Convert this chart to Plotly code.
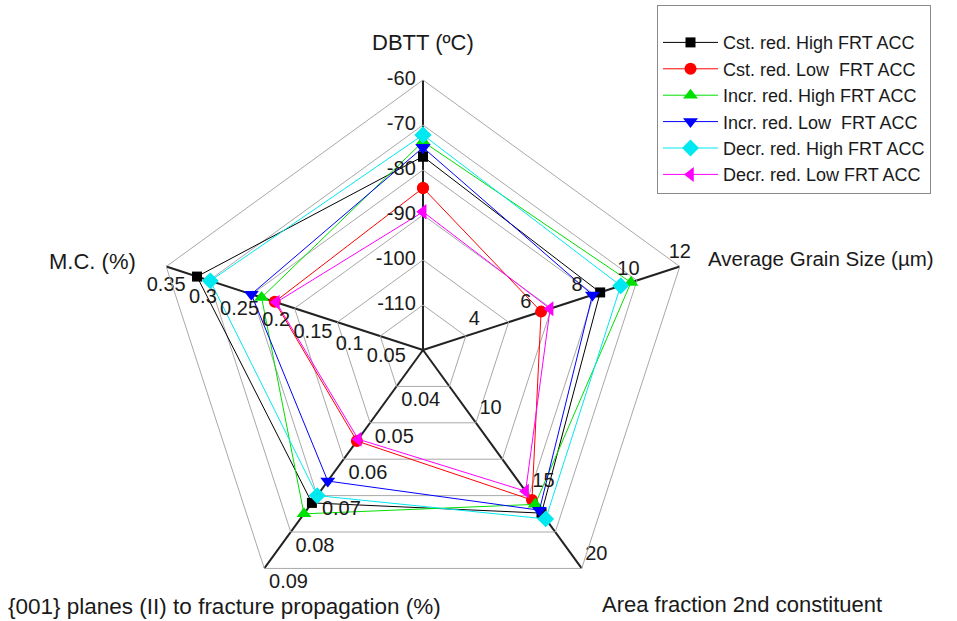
import plotly.graph_objects as go

# Spoke names, clockwise from the top
axis_names = [
    "DBTT (ºC)",
    "Average Grain Size (µm)",
    "Area fraction 2nd constituent",
    "{001} planes (II) to fracture propagation (%)",
    "M.C. (%)",
]

# Each spoke has its own scale: (value at centre, value at outer vertex)
dbtt_range = (-120, -60)
grain_range = (2, 12)
area_range = (5, 20)
planes_range = (0.03, 0.09)
mc_range = (0.0, 0.35)
axis_ranges = [dbtt_range, grain_range, area_range, planes_range, mc_range]

# Labelled ticks along each spoke
dbtt_ticks = [-110, -100, -90, -80, -70, -60]
grain_ticks = [4, 6, 8, 10, 12]
area_ticks = [10, 15, 20]
planes_ticks = [0.04, 0.05, 0.06, 0.07, 0.08, 0.09]
mc_ticks = [0.05, 0.1, 0.15, 0.2, 0.25, 0.3, 0.35]

series_names = [
    "Cst. red. High FRT ACC",
    "Cst. red. Low  FRT ACC",
    "Incr. red. High FRT ACC",
    "Incr. red. Low  FRT ACC",
    "Decr. red. High FRT ACC",
    "Decr. red. Low FRT ACC",
]
# Values per series: DBTT, grain size, area fraction, {001} planes, M.C.
cst_high = [-77.0, 8.9, 16.2, 0.072, 0.308]
cst_low = [-84.0, 6.6, 15.3, 0.055, 0.202]
incr_high = [-73.7, 10.1, 15.6, 0.075, 0.220]
incr_low = [-75.0, 8.6, 16.0, 0.066, 0.234]
decr_high = [-72.2, 9.7, 16.6, 0.070, 0.290]
decr_low = [-89.3, 6.95, 14.7, 0.0545, 0.200]
series_values = [cst_high, cst_low, incr_high, incr_low, decr_high, decr_low]

colors = ["#000000", "#ff0000", "#00e000", "#0000ff", "#00e8f0", "#ff00ff"]
symbols = ["square", "circle", "triangle-up", "triangle-down", "diamond", "triangle-left"]
sizes = [10, 12, 13, 13, 13, 13]

FONT = "Liberation Sans, Arial, sans-serif"
TEXT_COLOR = "#1a1a1a"


def norm(v, rng):
    lo, hi = rng
    return (v - lo) / (hi - lo)


fig = go.Figure()

for name, vals, col, sym, sz in zip(series_names, series_values, colors, symbols, sizes):
    r = [norm(v, rng) for v, rng in zip(vals, axis_ranges)]
    fig.add_trace(go.Scatterpolar(
        r=r + r[:1],
        theta=axis_names + axis_names[:1],
        mode="lines+markers",
        name=name,
        line=dict(color=col, width=1),
        marker=dict(symbol=sym, size=sz, color=col, line=dict(width=0)),
    ))

# Tick labels along each spoke, placed through the polar scale.
# An invisible marker of the given size pads the label away from its tick.
tick_sets = [
    (dbtt_ticks, dbtt_range, "middle left", 10),
    (grain_ticks, grain_range, "top center", 4),
    (area_ticks, area_range, "top right", 4),
    (planes_ticks, planes_range, "bottom right", 6),
    (mc_ticks, mc_range, "bottom center", 13),
]
for axis_name, (ticks, rng, pos, pad) in zip(axis_names, tick_sets):
    fig.add_trace(go.Scatterpolar(
        r=[norm(t, rng) for t in ticks],
        theta=[axis_name] * len(ticks),
        mode="markers+text",
        marker=dict(size=pad, color="rgba(0,0,0,0)"),
        text=[f"{t:g}" for t in ticks],
        textposition=pos,
        textfont=dict(family=FONT, size=20, color=TEXT_COLOR),
        showlegend=False,
        hoverinfo="skip",
    ))

fig.update_layout(
    width=957,
    height=621,
    margin=dict(l=0, r=0, t=0, b=0),
    paper_bgcolor="white",
    font=dict(family=FONT, color=TEXT_COLOR),
    polar=dict(
        domain=dict(x=[153 / 957, 693 / 957], y=[1 / 621, 541 / 621]),
        gridshape="linear",
        bgcolor="white",
        radialaxis=dict(
            range=[0, 1],
            tickvals=[k / 6 for k in range(1, 7)],
            showticklabels=False,
            ticks="",
            showline=False,
            gridcolor="#a8a8a8",
            gridwidth=1,
        ),
        angularaxis=dict(
            type="category",
            categoryarray=axis_names,
            rotation=90,
            direction="clockwise",
            showticklabels=False,
            ticks="",
            showline=True,
            linecolor="#a8a8a8",
            linewidth=1,
            gridcolor="#222222",
            gridwidth=1.6,
        ),
    ),
    legend=dict(
        x=657 / 957,
        y=1 - 5 / 621,
        xanchor="left",
        yanchor="top",
        bordercolor="#8a8a8a",
        borderwidth=1,
        bgcolor="white",
        font=dict(family=FONT, size=18, color=TEXT_COLOR),
        title=dict(text=" ", font=dict(size=14)),
        itemwidth=55,
    ),
    showlegend=True,
)

# Spoke titles
title_font = dict(family=FONT, size=22, color=TEXT_COLOR)
fig.add_annotation(text=axis_names[0], x=423 / 957, y=1 - 43 / 621,
                   xref="paper", yref="paper", xanchor="center", yanchor="middle",
                   showarrow=False, font=title_font)
fig.add_annotation(text=axis_names[1], x=706 / 957, y=1 - 258 / 621,
                   xref="paper", yref="paper", xanchor="left", yanchor="middle",
                   showarrow=False, font=dict(family=FONT, size=20.5, color=TEXT_COLOR))
fig.add_annotation(text=axis_names[2], x=600 / 957, y=1 - 604 / 621,
                   xref="paper", yref="paper", xanchor="left", yanchor="middle",
                   showarrow=False, font=title_font)
fig.add_annotation(text=axis_names[3], x=6 / 957, y=1 - 606 / 621,
                   xref="paper", yref="paper", xanchor="left", yanchor="middle",
                   showarrow=False, font=dict(family=FONT, size=22.5, color=TEXT_COLOR))
fig.add_annotation(text=axis_names[4], x=138 / 957, y=1 - 261 / 621,
                   xref="paper", yref="paper", xanchor="right", yanchor="middle",
                   showarrow=False, font=title_font)

fig.write_html("out.html")
